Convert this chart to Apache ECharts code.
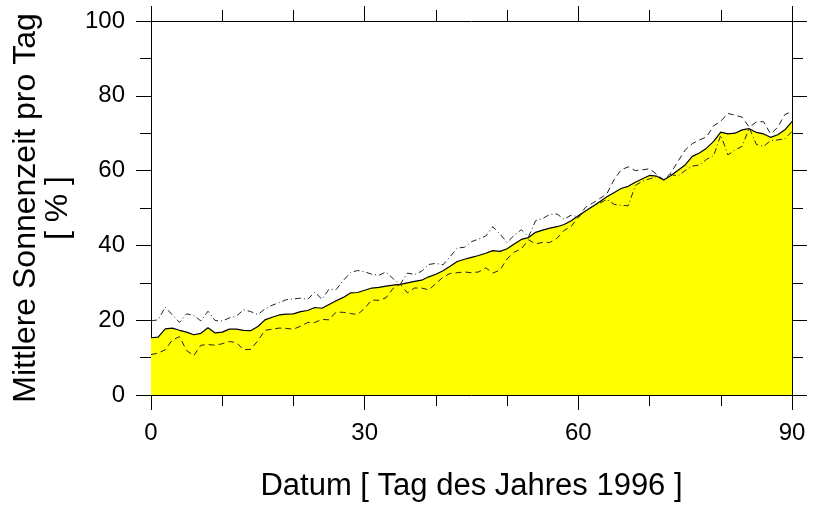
<!DOCTYPE html>
<html>
<head>
<meta charset="utf-8">
<script src="https://cdn.jsdelivr.net/npm/echarts@6/dist/echarts.min.js"></script>
<style>
html,body{margin:0;padding:0;background:#fff;}
#chart{width:814px;height:507px;}
</style>
</head>
<body>
<div id="chart"></div>
<script>
const days = Array.from({length: 91}, (_, i) => i);

const meanValues = [
15.3,15.5,17.7,17.9,17.3,16.8,16.1,16.5,18.0,16.6,
16.8,17.6,17.6,17.3,17.2,18.3,20.1,20.8,21.4,21.6,
21.7,22.3,22.6,23.4,23.2,24.2,25.2,26.1,27.3,27.4,
28.0,28.6,28.8,29.1,29.4,29.6,30.0,30.4,30.7,31.6,
32.3,33.2,34.4,35.7,36.3,36.8,37.3,37.9,38.6,38.4,
39.1,40.4,41.6,42.1,43.5,44.1,44.6,45.0,45.6,46.6,
47.9,49.2,50.4,51.7,53.0,54.1,55.2,55.8,56.9,57.8,
58.7,58.5,57.5,58.7,60.1,61.5,63.8,64.7,66.0,67.8,
70.3,69.8,70.0,70.9,71.2,70.2,69.8,68.9,69.6,70.9,
73.1];

const stationA = [
19.8,20.1,23.5,21.4,19.4,21.7,21.3,19.8,22.4,19.9,
19.8,20.6,21.1,22.8,22.3,21.5,23.0,24.0,24.7,25.5,
25.7,25.9,25.6,27.5,25.6,28.3,28.2,30.6,32.7,33.3,
32.9,32.3,32.0,32.9,31.1,29.6,32.6,32.2,33.1,34.9,
35.2,34.8,37.0,39.3,39.5,41.0,41.7,42.5,45.0,43.0,
40.8,42.7,44.2,42.3,46.6,47.2,48.3,48.4,47.0,48.1,
47.6,49.2,50.4,51.3,52.3,51.0,50.7,50.6,56.0,57.2,
57.8,58.4,57.6,59.0,58.5,60.0,61.2,61.5,63.0,64.0,
69.5,64.2,65.5,66.5,71.4,67.0,66.5,68.0,68.2,68.5,
70.5];

const stationB = [
10.8,11.2,12.1,14.7,15.6,11.9,10.5,13.3,13.5,13.3,
13.7,14.3,14.0,12.1,12.2,14.5,17.3,17.6,17.9,17.8,
17.6,18.4,19.4,19.4,20.2,20.1,22.2,22.1,21.8,21.5,
23.2,25.4,25.3,26.0,28.5,29.6,27.3,28.6,28.6,28.1,
29.8,31.5,32.5,32.7,32.9,32.7,32.9,34.0,32.6,33.4,
36.4,38.2,39.1,41.5,40.4,40.8,40.8,41.9,44.0,45.1,
47.5,50.2,51.3,52.5,53.8,57.5,60.2,61.0,60.0,60.2,
60.5,59.0,57.5,59.4,62.5,65.5,67.2,68.2,69.0,72.0,
73.2,75.3,74.8,74.3,71.6,73.0,73.1,69.8,71.6,75.0,
75.8];

const xTicks = [0, 30, 60, 90];
const yTicks = [0, 20, 40, 60, 80, 100];

const xName = 'Datum [ Tag des Jahres 1996 ]';
const yName = 'Mittlere Sonnenzeit pro Tag\n[ % ]';

const pairs = arr => days.map((d, i) => [d, arr[i]]);

const FONT = 'Liberation Sans, Arial, Helvetica, sans-serif';
const axisLineStyle = {color: '#000', width: 1};

function xAxisBase(pos, showLabels) {
  return {
    type: 'value', position: pos, min: xTicks[0], max: xTicks[xTicks.length - 1],
    interval: 30, splitNumber: 3,
    axisLine: {show: true, onZero: false, lineStyle: axisLineStyle},
    axisTick: {show: true, inside: false, length: 15, lineStyle: axisLineStyle},
    minorTick: {show: true, splitNumber: 3, length: 11, lineStyle: axisLineStyle},
    splitLine: {show: false},
    axisLabel: {show: showLabels, fontFamily: FONT, fontSize: 24, color: '#000', margin: 26},
  };
}
function yAxisBase(pos, showLabels) {
  return {
    type: 'value', position: pos, min: yTicks[0], max: yTicks[yTicks.length - 1],
    interval: 20,
    axisLine: {show: true, onZero: false, lineStyle: axisLineStyle},
    axisTick: {show: true, inside: false, length: 15, lineStyle: axisLineStyle},
    minorTick: {show: true, splitNumber: 2, length: 11, lineStyle: axisLineStyle},
    splitLine: {show: false},
    axisLabel: {show: showLabels, fontFamily: FONT, fontSize: 24, color: '#000', margin: 26},
  };
}

const chart = echarts.init(document.getElementById('chart'), null, {renderer: 'canvas'});
const xBottom = Object.assign(xAxisBase('bottom', true), {
  name: xName, nameLocation: 'middle', nameGap: 76,
  nameTextStyle: {fontFamily: FONT, fontSize: 31, color: '#000'}
});
const yLeft = Object.assign(yAxisBase('left', true), {
  name: yName, nameLocation: 'middle', nameGap: 73, nameRotate: 90,
  nameTextStyle: {fontFamily: FONT, fontSize: 32, color: '#000', lineHeight: 32}
});

chart.setOption({
  animation: false,
  backgroundColor: '#fff',
  grid: {left: 151, right: 22, top: 21, bottom: 108, containLabel: false},
  xAxis: [xBottom, xAxisBase('top', false)],
  yAxis: [yLeft, yAxisBase('right', false)],
  series: [
    {
      type: 'line', data: pairs(meanValues), showSymbol: false, symbol: 'none',
      lineStyle: {color: '#000', width: 1.2},
      areaStyle: {color: '#ffff00', opacity: 1, origin: 'start'},
      z: 2
    },
    {
      type: 'line', data: pairs(stationA), showSymbol: false, symbol: 'none',
      lineStyle: {color: '#222', width: 1, type: [6, 3, 1, 3]},
      z: 3
    },
    {
      type: 'line', data: pairs(stationB), showSymbol: false, symbol: 'none',
      lineStyle: {color: '#222', width: 1, type: [6, 4]},
      z: 3
    }
  ]
});
</script>
</body>
</html>
